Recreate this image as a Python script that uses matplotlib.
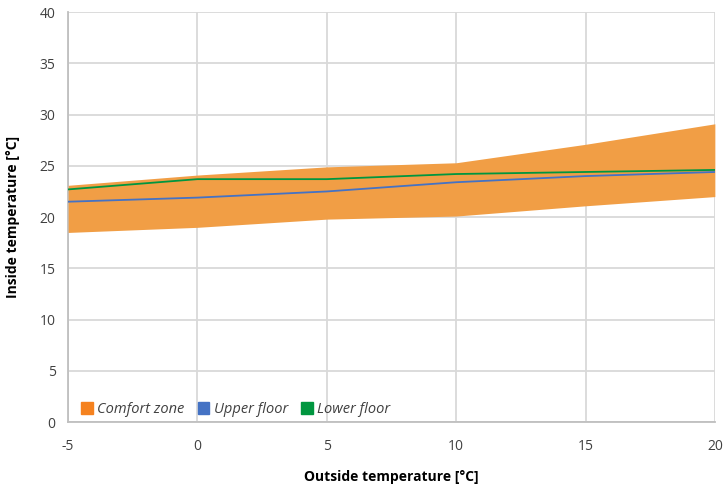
import numpy as np
import matplotlib
matplotlib.use('Agg')
import matplotlib.pyplot as plt
from matplotlib.patches import Patch

plt.rcParams['font.family'] = ['Open Sans', 'DejaVu Sans']
plt.rcParams['axes.unicode_minus'] = False

# --- data ---
outside = [-5, 0, 5, 10, 15, 20]
comfort_low = [18.5, 19.0, 19.8, 20.1, 21.1, 22.0]
comfort_high = [23.1, 24.1, 24.9, 25.3, 27.1, 29.1]
upper_floor = [21.5, 21.9, 22.5, 23.4, 24.0, 24.4]
lower_floor = [22.7, 23.7, 23.7, 24.2, 24.4, 24.6]

fig = plt.figure(figsize=(7.25, 4.84), dpi=100)
ax = fig.add_axes([0.094, 0.128, 0.892, 0.847])

grid_col = '#D9D9D9'
ax.fill_between(outside, comfort_low, comfort_high, color='#F19E45', lw=0, zorder=3)
ax.plot(outside, upper_floor, color='#4472C4', lw=1.3, zorder=4)
ax.plot(outside, lower_floor, color='#00963F', lw=1.3, zorder=4)

ax.set_xlim(-5, 20)
ax.set_ylim(0, 40)
ax.set_xticks(np.arange(-5, 21, 5))
ax.set_yticks(np.arange(0, 41, 5))
ax.grid(True, color=grid_col, lw=1.3, zorder=1)
ax.set_axisbelow(True)
for s in ['top', 'right']:
    ax.spines[s].set_visible(False)
for s in ['left', 'bottom']:
    ax.spines[s].set_color('#BFBFBF')
    ax.spines[s].set_linewidth(1.3)
ax.tick_params(length=0, labelsize=10, colors='#404040', pad=12)
ax.tick_params(axis='y', pad=9)

ax.set_xlabel('Outside temperature [°C]', fontsize=10, fontweight='bold', labelpad=12)
ax.set_ylabel('Inside temperature [°C]', fontsize=10, fontweight='bold', labelpad=14)

handles = [Patch(color='#F5821F', label='Comfort zone'),
           Patch(color='#4472C4', label='Upper floor'),
           Patch(color='#00963F', label='Lower floor')]
leg = ax.legend(handles=handles, loc='lower left', ncol=3, frameon=False,
                prop={'style': 'italic', 'size': 10.5}, handlelength=0.8,
                handleheight=0.8, handletextpad=0.3, columnspacing=0.9,
                bbox_to_anchor=(0.0, -0.02))
for t in leg.get_texts():
    t.set_color('#404040')

fig.savefig('out.png', dpi=100)
